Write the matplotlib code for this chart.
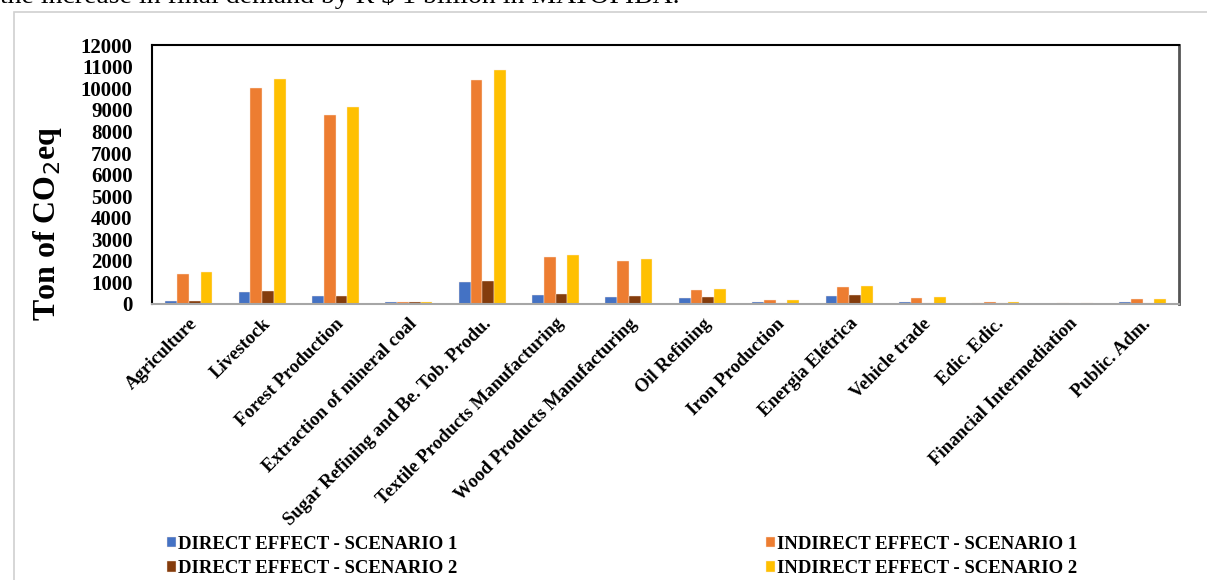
import matplotlib.pyplot as plt
import matplotlib.patches as mpatches
import numpy as np

sectors = ['Agriculture', 'Livestock', 'Forest Production', 'Extraction of mineral coal',
           'Sugar Refining and Be. Tob. Produ.', 'Textile Products Manufacturing',
           'Wood Products Manufacturing', 'Oil Refining', 'Iron Production',
           'Energia Elétrica', 'Vehicle trade', 'Edic. Edic.',
           'Financial Intermediation', 'Public. Adm.']

direct_s1 = [120, 560, 370, 100, 1020, 420, 330, 290, 70, 390, 70, 50, 10, 70]
indirect_s1 = [1380, 10020, 8750, 110, 10400, 2190, 2000, 650, 190, 790, 290, 90, 20, 240]
direct_s2 = [140, 600, 390, 100, 1080, 440, 350, 300, 60, 400, 60, 40, 10, 60]
indirect_s2 = [1460, 10440, 9150, 100, 10850, 2280, 2080, 700, 190, 830, 300, 90, 20, 250]

series = [
    ('DIRECT EFFECT - SCENARIO 1', direct_s1, '#4472C4'),
    ('DIRECT EFFECT - SCENARIO 2', direct_s2, '#843C0C'),
    ('INDIRECT EFFECT - SCENARIO 1', indirect_s1, '#ED7D31'),
    ('INDIRECT EFFECT - SCENARIO 2', indirect_s2, '#FFC000'),
]
# drawing order inside each group: D1, I1, D2, I2
bar_order = [0, 2, 1, 3]

plt.rcParams['font.family'] = ['Liberation Serif', 'DejaVu Serif']

fig = plt.figure(figsize=(12.07, 5.80), dpi=100)
ax = fig.add_axes([0.126, 0.476, 0.851, 0.446])

# thin grey frame around the chart area
fig.patches.append(mpatches.Rectangle((14/1207, -0.01), 1.02, 1 - 12/580 + 0.01,
                                      transform=fig.transFigure, fill=False,
                                      edgecolor='#d0d0d0', linewidth=1.2))

fig.text(0.0, 1 - 3/580, 'the increase in final demand by R $ 1 billion in MATOPIBA.',
         fontsize=20, va='baseline', ha='left')

x = np.arange(len(sectors))
w = 0.16
handles = {}
for k, idx in enumerate(bar_order):
    name, vals, col = series[idx]
    b = ax.bar(x + (k - 1.5) * w, vals, w, color=col, edgecolor='#fbe9dc',
               linewidth=0.3, label=name)
    handles[idx] = b

ax.set_xlim(-0.5, len(sectors) - 0.5)
ax.set_ylim(0, 12000)
ax.set_yticks(np.arange(0, 12001, 1000))
ax.set_yticklabels([str(v) for v in range(0, 12001, 1000)], fontsize=15, fontweight='bold')
ax.set_xticks(x)
ax.set_xticklabels(sectors, rotation=45, ha='right', rotation_mode='anchor',
                   fontsize=13.5, fontweight='bold')
ax.tick_params(axis='both', length=0)
ax.tick_params(axis='y', pad=14)
ax.tick_params(axis='x', pad=8)

for s in ['left', 'top', 'right']:
    ax.spines[s].set_color('black')
    ax.spines[s].set_linewidth(1.5)
ax.spines['right'].set_color('#555555')
ax.spines['right'].set_linewidth(2.0)
ax.spines['bottom'].set_color('#a6a6a6')
ax.spines['bottom'].set_linewidth(1.5)

ax.set_ylabel('Ton of CO$_2$eq', fontsize=23, fontweight='bold')
ax.yaxis.set_label_coords(-88/1027, 0.31)

fig.legend([handles[i] for i in range(4)], [series[i][0] for i in range(4)],
           loc='lower left', bbox_to_anchor=(0.124, -0.024), ncol=2,
           frameon=False, prop={'weight': 'bold', 'size': 13.5},
           handlelength=0.5, handleheight=0.5, handletextpad=0.1,
           columnspacing=16.45, labelspacing=0.4)

fig.savefig('out.png', dpi=100)
